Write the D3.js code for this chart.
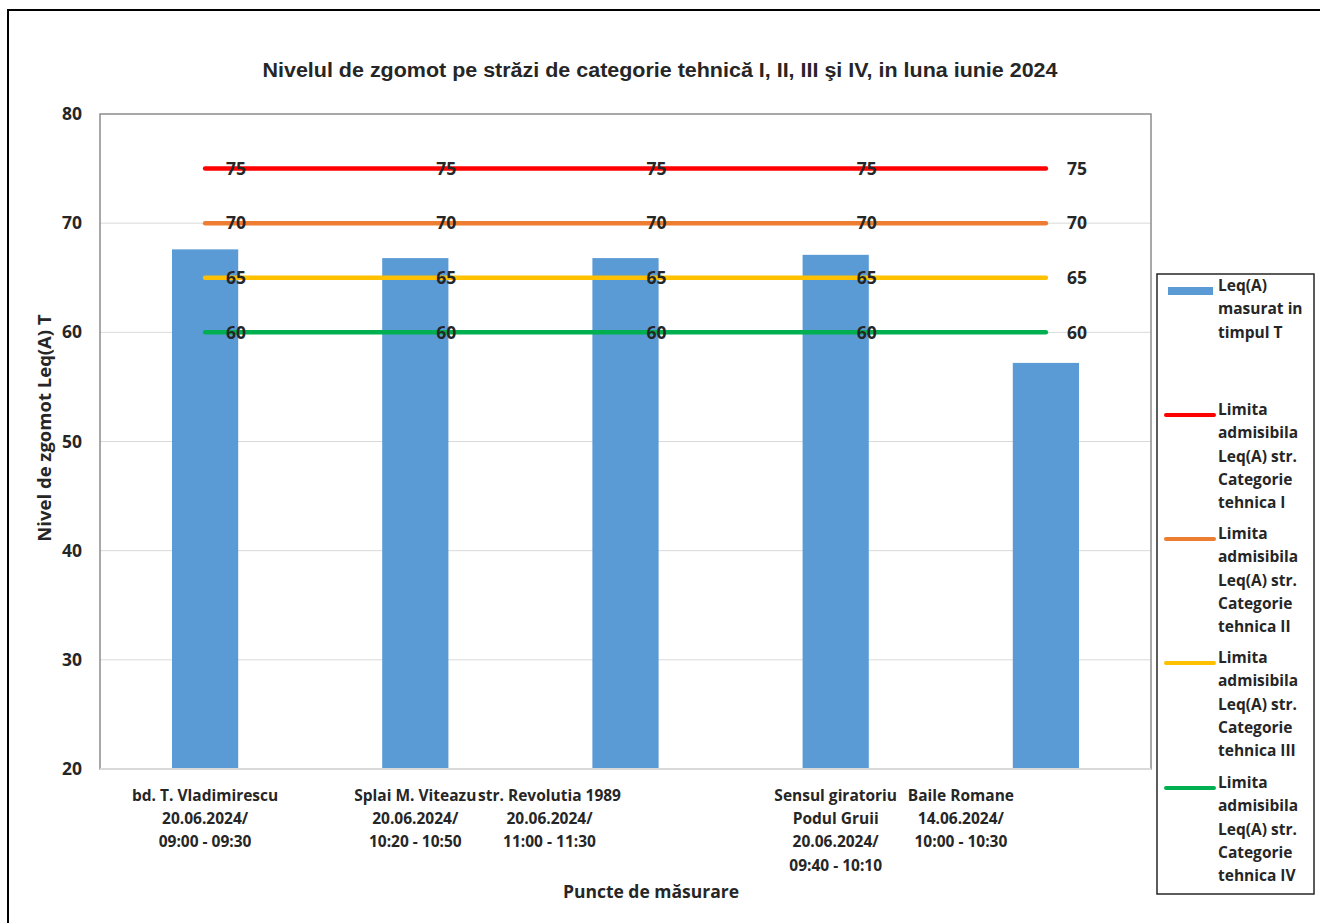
<!DOCTYPE html>
<html>
<head>
<meta charset="utf-8">
<script src="https://cdn.jsdelivr.net/npm/d3@7"></script>
<style>
  html, body { margin: 0; padding: 0; background: #fff; }
  svg { display: block; }
  .lbl { font-family: "Open Sans", Lato, sans-serif; font-weight: 700; fill: #262626; }
</style>
</head>
<body>
<div id="chart"></div>
<script>
// Noise levels per measuring point, with legal limit lines.

const categories = [
  ['bd. T. Vladimirescu', '20.06.2024/', '09:00 - 09:30'],
  ['Splai M. Viteazu', '20.06.2024/', '10:20 - 10:50'],
  ['str. Revolutia 1989', '20.06.2024/', '11:00 - 11:30'],
  ['Sensul giratoriu', 'Podul Gruii', '20.06.2024/', '09:40 - 10:10'],
  ['Baile Romane', '14.06.2024/', '10:00 - 10:30']
];
const measured = [67.6, 66.8, 66.8, 67.1, 57.2];
const limitI = [75, 75, 75, 75, 75];
const limitII = [70, 70, 70, 70, 70];
const limitIII = [65, 65, 65, 65, 65];
const limitIV = [60, 60, 60, 60, 60];
const yTicks = [20, 30, 40, 50, 60, 70, 80];

const COLORS = {
  bar: '#5B9BD5',
  red: '#FF0000',
  orange: '#ED7D31',
  yellow: '#FFC000',
  green: '#00B050'
};

const limits = [
  { values: limitI, color: COLORS.red, name: ['Limita', 'admisibila', 'Leq(A) str.', 'Categorie', 'tehnica I'] },
  { values: limitII, color: COLORS.orange, name: ['Limita', 'admisibila', 'Leq(A) str.', 'Categorie', 'tehnica II'] },
  { values: limitIII, color: COLORS.yellow, name: ['Limita', 'admisibila', 'Leq(A) str.', 'Categorie', 'tehnica III'] },
  { values: limitIV, color: COLORS.green, name: ['Limita', 'admisibila', 'Leq(A) str.', 'Categorie', 'tehnica IV'] }
];

const W = 1320, H = 923;
const plot = { left: 100, top: 114, right: 1151, bottom: 769 };

const svg = d3.select('#chart').append('svg')
  .attr('width', W).attr('height', H);

// outer chart frame
svg.append('rect')
  .attr('x', 8).attr('y', 10).attr('width', W).attr('height', H)
  .attr('fill', '#fff').attr('stroke', '#000').attr('stroke-width', 2);

const idx = d3.range(categories.length);
const x = d3.scaleBand().domain(idx).range([plot.left, plot.right]);
const y = d3.scaleLinear().domain([20, 80]).range([plot.bottom, plot.top]);
const cx = i => x(i) + x.bandwidth() / 2;
const barW = x.bandwidth() * 0.315;

// gridlines
svg.append('g')
  .selectAll('line').data(yTicks.slice(1, -1)).join('line')
    .attr('x1', plot.left).attr('x2', plot.right)
    .attr('y1', d => y(d)).attr('y2', d => y(d))
    .attr('stroke', '#d9d9d9').attr('stroke-width', 1);

// y axis labels
const yAxis = svg.append('g').attr('transform', `translate(${plot.left},0)`)
  .call(d3.axisLeft(y).tickValues(yTicks).tickSize(0).tickPadding(18));
yAxis.select('.domain').remove();
yAxis.selectAll('text').attr('class', 'lbl').attr('font-size', 17.5).attr('fill', '#262626');

// bars
svg.append('g')
  .selectAll('rect').data(measured).join('rect')
    .attr('x', (d, i) => cx(i) - barW / 2)
    .attr('width', barW)
    .attr('y', d => y(d))
    .attr('height', d => y(20) - y(d))
    .attr('fill', COLORS.bar);

// plot area border
svg.append('rect')
  .attr('x', plot.left).attr('y', plot.top)
  .attr('width', plot.right - plot.left).attr('height', plot.bottom - plot.top)
  .attr('fill', 'none').attr('stroke', '#8c8c8c').attr('stroke-width', 1.5);
svg.append('line')
  .attr('x1', plot.left).attr('x2', plot.right)
  .attr('y1', plot.bottom).attr('y2', plot.bottom)
  .attr('stroke', '#d9d9d9').attr('stroke-width', 2);

// limit lines + their data labels
const line = d3.line().x((d, i) => cx(i)).y(d => y(d));
limits.forEach(s => {
  svg.append('path')
    .attr('d', line(s.values))
    .attr('fill', 'none').attr('stroke', s.color)
    .attr('stroke-width', 4.5).attr('stroke-linecap', 'round');
});
limits.forEach(s => {
  svg.append('g').selectAll('text').data(s.values).join('text')
    .attr('class', 'lbl')
    .attr('x', (d, i) => cx(i) + 31)
    .attr('y', d => y(d))
    .attr('dy', '0.36em')
    .attr('text-anchor', 'middle')
    .attr('font-size', 17.5)
    .attr('fill', '#111')
    .text(d => d);
});

// category labels (some labels sit off-centre as in the original)
const labelShift = [0, 0, -76, 0, -85];
const catG = svg.append('g');
categories.forEach((lines, i) => {
  const t = catG.append('text').attr('class', 'lbl')
    .attr('x', cx(i) + labelShift[i]).attr('y', 801)
    .attr('text-anchor', 'middle').attr('font-size', 15.5);
  lines.forEach((ln, k) => {
    t.append('tspan').attr('x', cx(i) + labelShift[i]).attr('dy', k ? 23.2 : 0).text(ln);
  });
});

// title and axis titles
svg.append('text')
  .attr('x', 660).attr('y', 77).attr('text-anchor', 'middle')
  .attr('font-family', '"Liberation Sans", Arial, sans-serif')
  .attr('font-weight', 700).attr('font-size', 20).attr('fill', '#262626')
  .attr('textLength', 795).attr('lengthAdjust', 'spacingAndGlyphs')
  .text('Nivelul de zgomot pe străzi de categorie tehnică I, II, III şi IV, in luna iunie 2024');

svg.append('text').attr('class', 'lbl')
  .attr('transform', 'translate(51,428) rotate(-90)')
  .attr('text-anchor', 'middle').attr('font-size', 18.5)
  .text('Nivel de zgomot Leq(A) T');

svg.append('text').attr('class', 'lbl')
  .attr('x', 651).attr('y', 898).attr('text-anchor', 'middle').attr('font-size', 17.5)
  .text('Puncte de măsurare');

// legend
const leg = { x: 1157, y: 274, w: 157, h: 620 };
svg.append('rect')
  .attr('x', leg.x).attr('y', leg.y).attr('width', leg.w).attr('height', leg.h)
  .attr('fill', '#fff').attr('stroke', '#262626').attr('stroke-width', 1.5);

const legendItems = [
  { kind: 'bar', color: COLORS.bar, name: ['Leq(A)', 'masurat in', 'timpul T'] },
  ...limits.map(s => ({ kind: 'line', color: s.color, name: s.name }))
];
const legendRowY = [291, 415, 539, 663, 788];
const lg = svg.append('g');
legendItems.forEach((it, i) => {
  const yy = legendRowY[i];
  if (it.kind === 'bar') {
    lg.append('rect').attr('x', leg.x + 11).attr('y', yy - 4).attr('width', 45).attr('height', 8)
      .attr('fill', it.color);
  } else {
    lg.append('line').attr('x1', leg.x + 9).attr('x2', leg.x + 57)
      .attr('y1', yy).attr('y2', yy)
      .attr('stroke', it.color).attr('stroke-width', 4).attr('stroke-linecap', 'round');
  }
  const t = lg.append('text').attr('class', 'lbl')
    .attr('x', leg.x + 61).attr('y', yy).attr('dy', '0.35em').attr('font-size', 15.5);
  it.name.forEach((ln, k) => {
    t.append('tspan').attr('x', leg.x + 61).attr('dy', k ? 23.3 : 0).text(ln);
  });
});
</script>
</body>
</html>
